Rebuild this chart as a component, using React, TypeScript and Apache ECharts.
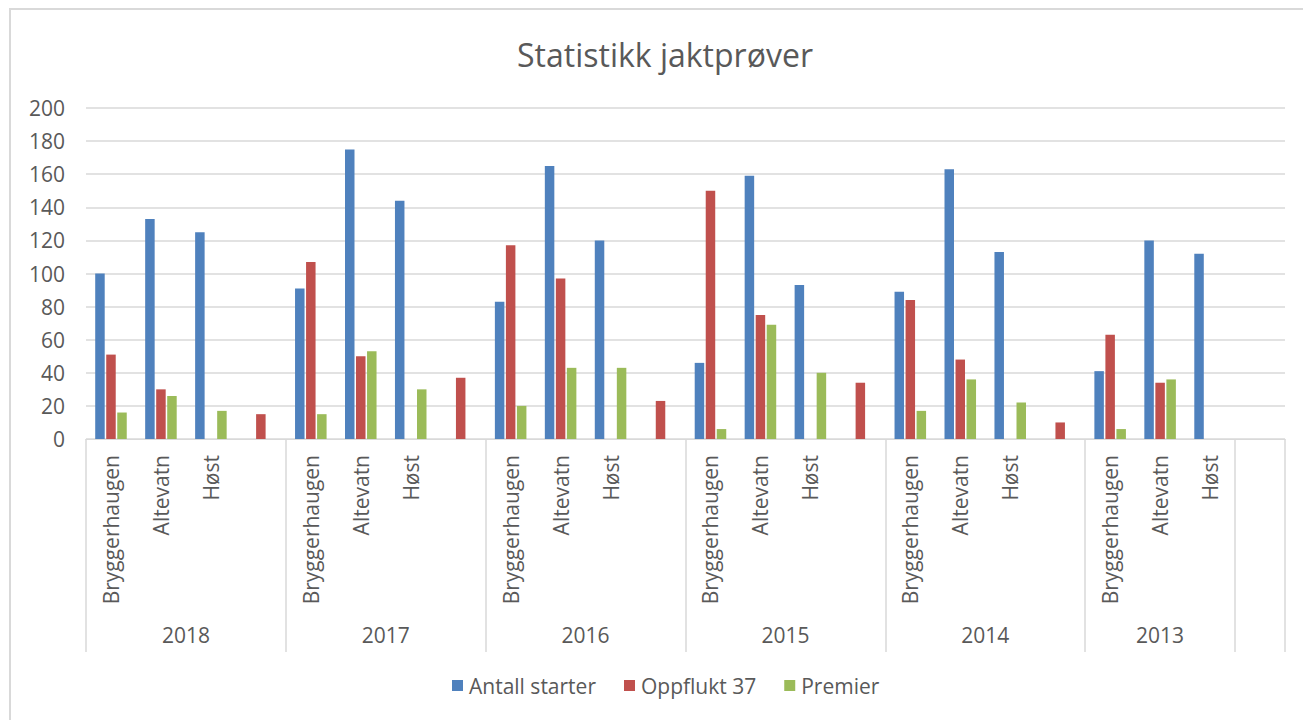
import React, { useEffect, useRef } from "react";
import * as echarts from "echarts";

const years = ["2018", "2017", "2016", "2015", "2014", "2013", ""];
const groupSites = [
  ["Bryggerhaugen", "Altevatn", "Høst", ""],
  ["Bryggerhaugen", "Altevatn", "Høst", ""],
  ["Bryggerhaugen", "Altevatn", "Høst", ""],
  ["Bryggerhaugen", "Altevatn", "Høst", ""],
  ["Bryggerhaugen", "Altevatn", "Høst", ""],
  ["Bryggerhaugen", "Altevatn", "Høst"],
  [""],
];

const antallStarter = [100, 133, 125, null, 91, 175, 144, null, 83, 165, 120, null, 46, 159, 93, null, 89, 163, 113, null, 41, 120, 112, null];
const oppflukt37 = [51, 30, null, 15, 107, 50, null, 37, 117, 97, null, 23, 150, 75, null, 34, 84, 48, null, 10, 63, 34, null, null];
const premier = [16, 26, 17, null, 15, 53, 30, null, 20, 43, 43, null, 6, 69, 40, null, 17, 36, 22, null, 6, 36, null, null];

const seriesNames = ["Antall starter", "Oppflukt 37", "Premier"];
const colors = ["#4f81bd", "#c0504d", "#9bbb59"];

const FONT = "'Open Sans', sans-serif";
const TXT = "#595959";

export default function App() {
  const ref = useRef<HTMLDivElement>(null);

  useEffect(() => {
    if (!ref.current) return;
    const chart = echarts.init(ref.current, undefined, { renderer: "svg" });

    const categories: string[] = [];
    groupSites.forEach((g) => g.forEach((s) => categories.push(s)));
    const nSlots = categories.length;

    // half-slot point axis for the year level
    const yearAxis: string[] = new Array(nSlots * 2 + 1).fill("");
    const boundaries = new Set<number>();
    let start = 0;
    boundaries.add(0);
    groupSites.forEach((g, i) => {
      const center = start * 2 + g.length;
      yearAxis[center] = years[i];
      start += g.length;
      boundaries.add(start * 2);
    });

    const data = [antallStarter, oppflukt37, premier];

    chart.setOption({
      animation: false,
      textStyle: { fontFamily: FONT },
      title: {
        text: "Statistikk jaktprøver",
        left: 660,
        top: 33,
        textAlign: "center",
        textStyle: { fontFamily: FONT, fontSize: 32, fontWeight: "normal", color: TXT },
      },
      legend: {
        bottom: 19,
        left: 447,
        itemWidth: 11,
        itemHeight: 11,
        itemGap: 28,
        icon: "rect",
        textStyle: { fontFamily: FONT, fontSize: 21, color: TXT, padding: [0, 0, 0, 1] },
        data: seriesNames,
      },
      grid: { left: 86, right: 18, top: 108, bottom: 281, containLabel: false },
      xAxis: [
        {
          type: "category",
          data: categories,
          position: "bottom",
          axisLine: { lineStyle: { color: "#d9d9d9", width: 1 } },
          axisTick: { show: false },
          axisLabel: {
            interval: 0,
            rotate: 90,
            margin: 16,
            fontFamily: FONT,
            fontSize: 21,
            color: TXT,
          },
        },
        {
          type: "category",
          data: yearAxis,
          position: "bottom",
          boundaryGap: false,
          axisLine: { show: false },
          axisTick: {
            show: true,
            length: 213,
            interval: (index: number) => boundaries.has(index),
            lineStyle: { color: "#d9d9d9", width: 1.5 },
          },
          axisLabel: {
            interval: 0,
            margin: 185,
            fontFamily: FONT,
            fontSize: 21,
            color: TXT,
          },
          splitLine: { show: false },
        },
      ],
      yAxis: {
        type: "value",
        min: 0,
        max: 200,
        interval: 20,
        axisLine: { show: false },
        axisTick: { show: false },
        axisLabel: { margin: 21, fontFamily: FONT, fontSize: 21, color: TXT },
        splitLine: { lineStyle: { color: "#d9d9d9", width: 1.5 } },
      },
      graphic: [
        {
          type: "polyline",
          shape: { points: [[10, 730], [10, 9], [1310, 9]] },
          style: { stroke: "#d9d9d9", lineWidth: 2, fill: "none" },
          silent: true,
        },
      ],
      series: seriesNames.map((name, i) => ({
        name,
        type: "bar",
        xAxisIndex: 0,
        data: data[i],
        barWidth: 9.5,
        barGap: "16%",
        itemStyle: { color: colors[i] },
      })),
    });

    return () => chart.dispose();
  }, []);

  return (
    <div
      ref={ref}
      style={{ position: "fixed", left: 0, top: 0, width: 1303, height: 720, background: "#fff" }}
    />
  );
}
